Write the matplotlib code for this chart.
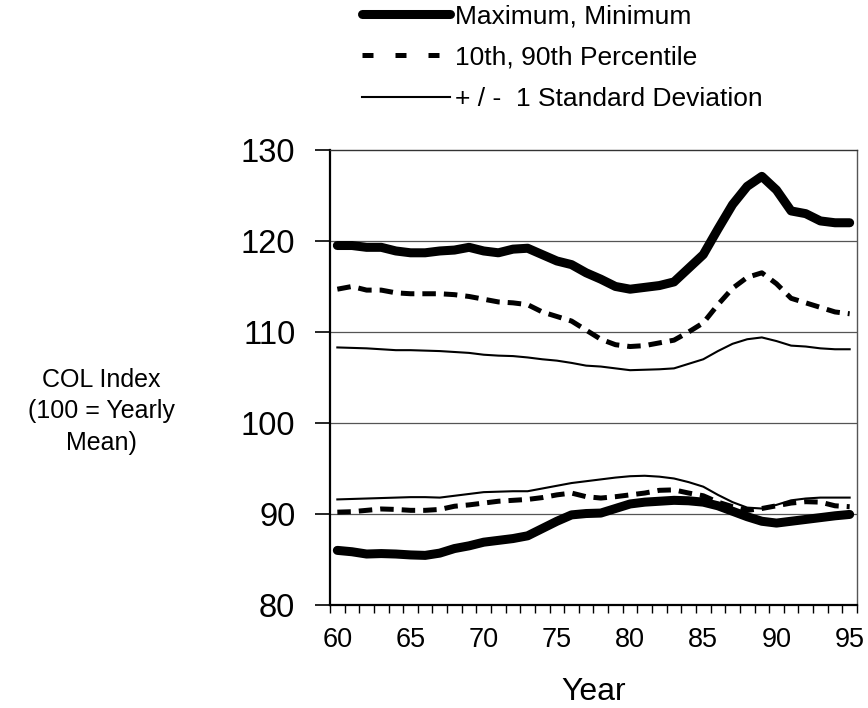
import matplotlib
matplotlib.use("Agg")
import matplotlib.pyplot as plt
from matplotlib.lines import Line2D
from matplotlib.ticker import MultipleLocator, FixedLocator, FixedFormatter

plt.rcParams['font.family'] = ['Liberation Sans', 'DejaVu Sans']

years = list(range(60, 96))

max_idx = [119.5, 119.5, 119.3, 119.3, 118.9, 118.7, 118.7, 118.9, 119.0, 119.3,
           118.9, 118.7, 119.1, 119.2, 118.5, 117.8, 117.4, 116.5, 115.8, 115.0,
           114.7, 114.9, 115.1, 115.5, 117.0, 118.5, 121.3, 124.0, 126.0, 127.1,
           125.6, 123.3, 123.0, 122.2, 122.0, 122.0]
min_idx = [86.0, 85.85, 85.6, 85.65, 85.6, 85.5, 85.45, 85.7, 86.2, 86.5,
           86.9, 87.1, 87.3, 87.6, 88.4, 89.2, 89.9, 90.05, 90.1, 90.6,
           91.1, 91.3, 91.4, 91.5, 91.45, 91.3, 90.9, 90.3, 89.7, 89.2,
           89.0, 89.2, 89.4, 89.6, 89.8, 89.95]
p90 = [114.7, 115.0, 114.6, 114.6, 114.3, 114.2, 114.2, 114.2, 114.1, 113.9,
       113.6, 113.3, 113.2, 113.0, 112.2, 111.7, 111.2, 110.2, 109.2, 108.6,
       108.4, 108.5, 108.8, 109.1, 110.0, 111.0, 113.0, 114.8, 116.0, 116.5,
       115.3, 113.7, 113.2, 112.7, 112.2, 112.0]
p10 = [90.2, 90.25, 90.4, 90.55, 90.5, 90.4, 90.4, 90.5, 90.85, 91.0,
       91.2, 91.4, 91.5, 91.6, 91.8, 92.1, 92.3, 91.9, 91.75, 91.9,
       92.1, 92.3, 92.6, 92.65, 92.3, 92.0, 91.3, 90.8, 90.4, 90.6,
       90.9, 91.2, 91.35, 91.3, 90.9, 90.8]
sd_up = [108.3, 108.25, 108.2, 108.1, 108.0, 108.0, 107.95, 107.9, 107.8, 107.7,
         107.5, 107.4, 107.35, 107.2, 107.0, 106.85, 106.6, 106.3, 106.2, 106.0,
         105.8, 105.85, 105.9, 106.0, 106.5, 107.0, 107.9, 108.7, 109.2, 109.4,
         109.0, 108.5, 108.4, 108.2, 108.1, 108.1]
sd_dn = [91.6, 91.65, 91.7, 91.75, 91.8, 91.85, 91.85, 91.8, 92.0, 92.2,
         92.4, 92.45, 92.5, 92.5, 92.8, 93.1, 93.4, 93.6, 93.8, 94.0,
         94.15, 94.2, 94.1, 93.9, 93.5, 93.0, 92.1, 91.3, 90.7, 90.6,
         91.0, 91.5, 91.7, 91.8, 91.8, 91.8]

xtick_pos = [60, 65, 70, 75, 80, 85, 90, 95]
xtick_labels = ['60', '65', '70', '75', '80', '85', '90', '95']

fig = plt.figure(figsize=(8.68, 7.08), dpi=100)
ax = fig.add_axes([0.3802, 0.1455, 0.6071, 0.6427])

# horizontal gridlines
for g in [90, 100, 110, 120]:
    ax.axhline(g, color='#555555', lw=0.9, zorder=1)

thick = dict(color='black', lw=6.5, solid_capstyle='round', solid_joinstyle='round', zorder=3)
dash = dict(color='black', lw=3.6, dashes=(2.7, 1.6), zorder=3)
thin = dict(color='black', lw=1.5, zorder=3)

l_max, = ax.plot(years, max_idx, label='Maximum, Minimum', **thick)
ax.plot(years, min_idx, **thick)
ax.plot(years, p90, **dash)
ax.plot(years, p10, **dash)
l_sd, = ax.plot(years, sd_up, label='+ / -  1 Standard Deviation', **thin)
ax.plot(years, sd_dn, **thin)

# legend sample for the dashed pair uses wider gaps, as in the original key
l_pct = Line2D([], [], color='black', lw=3.6, dashes=(2.2, 4.4),
               label='10th, 90th Percentile')

ax.set_xlim(59.5, 95.5)
ax.set_ylim(80, 130)

ax.xaxis.set_major_locator(FixedLocator(xtick_pos))
ax.xaxis.set_major_formatter(FixedFormatter(xtick_labels))
ax.xaxis.set_minor_locator(MultipleLocator(1, offset=0.5))
ax.tick_params(axis='x', which='major', length=0, pad=16, labelsize=19.5)
ax.tick_params(axis='x', which='minor', length=6, width=1, direction='out')

ax.yaxis.set_major_locator(MultipleLocator(10))
ax.tick_params(axis='y', which='major', length=11, width=1.2, direction='out',
               pad=14, labelsize=23.5)

for side in ['left', 'bottom']:
    ax.spines[side].set_linewidth(1.6)
ax.spines['top'].set_linewidth(1.0)
ax.spines['top'].set_color('#333333')
ax.spines['right'].set_linewidth(1.0)
ax.spines['right'].set_color('#555555')

ax.set_xlabel('Year', fontsize=23, labelpad=17)
ax.set_ylabel('COL Index\n(100 = Yearly\nMean)', fontsize=18, rotation=0,
              ha='center', va='center', linespacing=1.4)
ax.yaxis.set_label_coords(-0.4345, 0.426)

fig.legend(handles=[l_max, l_pct, l_sd], loc='upper left',
           bbox_to_anchor=(358 / 868, 1.0), frameon=False, fontsize=19,
           handlelength=3.33, handletextpad=0.19, labelspacing=0.66,
           borderpad=0.16, borderaxespad=0)

fig.savefig('out.png', dpi=100)
